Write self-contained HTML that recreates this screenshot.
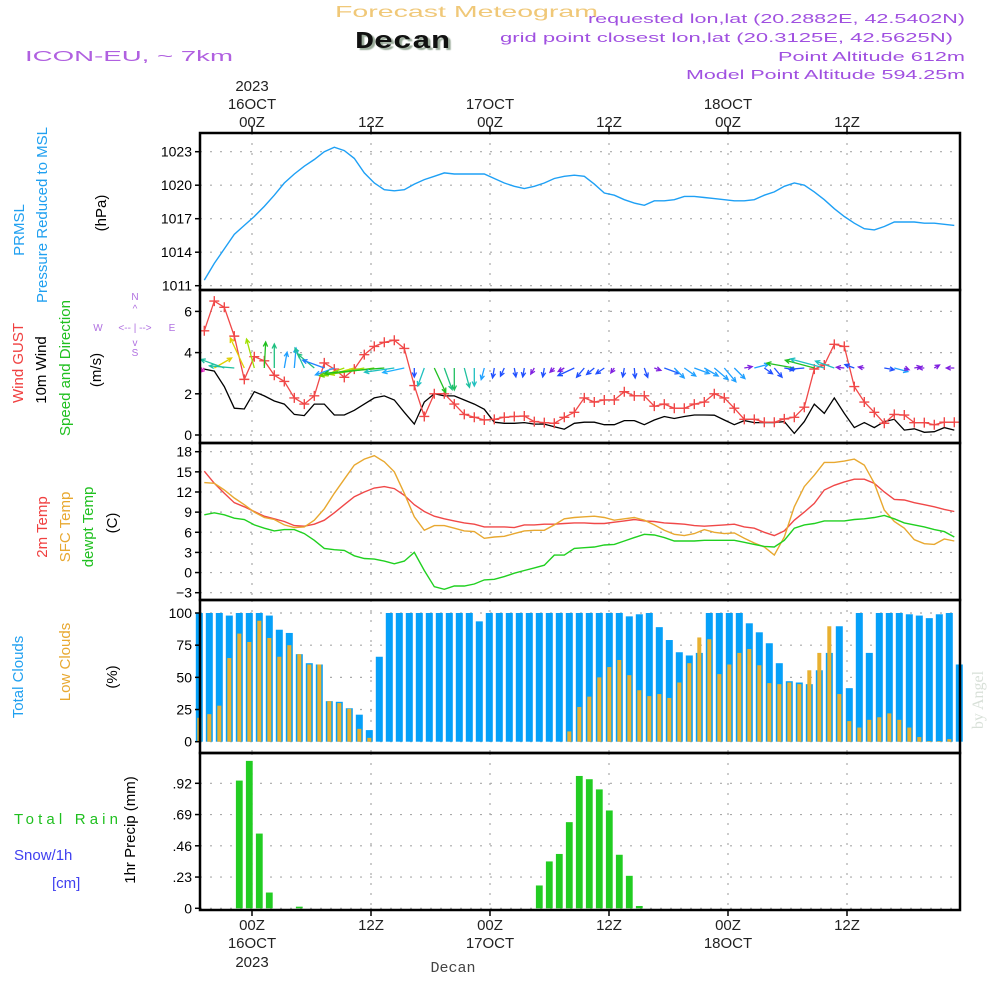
<!DOCTYPE html>
<html><head><meta charset="utf-8">
<style>
html,body{margin:0;padding:0;background:#fff;}
svg{display:block;font-family:"Liberation Sans",sans-serif;}
</style></head>
<body>
<svg id="chart" width="1000" height="1000" viewBox="0 0 1000 1000">
<g>
<text x="335" y="17" fill="#f0c878" font-size="16" textLength="263" lengthAdjust="spacingAndGlyphs">Forecast Meteogram</text>
<text x="355" y="48" fill="#111" font-size="24" font-weight="bold" font-family="Liberation Mono, monospace" textLength="95" lengthAdjust="spacingAndGlyphs" style="text-shadow:2px 2px 1px #9a9">Decan</text>
<text x="25" y="61" fill="#b060e0" font-size="15" textLength="208" lengthAdjust="spacingAndGlyphs">ICON-EU, ~ 7km</text>
<text x="588" y="23" fill="#a050e0" font-size="13" textLength="377" lengthAdjust="spacingAndGlyphs">requested lon,lat (20.2882E, 42.5402N)</text>
<text x="500" y="42" fill="#a050e0" font-size="13" textLength="453" lengthAdjust="spacingAndGlyphs">grid point closest lon,lat (20.3125E, 42.5625N)</text>
<text x="778" y="61" fill="#a050e0" font-size="13" textLength="187" lengthAdjust="spacingAndGlyphs">Point Altitude 612m</text>
<text x="686" y="79" fill="#a050e0" font-size="13" textLength="279" lengthAdjust="spacingAndGlyphs">Model Point Altitude 594.25m</text>
</g>
<g id="grid"></g>
<g id="marks"></g>
<g id="frames"></g>
<g id="labels"></g>
<g font-size="15">
<text transform="translate(24,230) rotate(-90)" fill="#20a0f0" text-anchor="middle">PRMSL</text>
<text transform="translate(47,215) rotate(-90)" fill="#20a0f0" text-anchor="middle">Pressure Reduced to MSL</text>
<text transform="translate(106,213) rotate(-90)" fill="#000" text-anchor="middle">(hPa)</text>
<text transform="translate(23,363) rotate(-90)" fill="#f04040" text-anchor="middle">Wind GUST</text>
<text transform="translate(46,370) rotate(-90)" fill="#000" text-anchor="middle">10m Wind</text>
<text transform="translate(70,368) rotate(-90)" fill="#20c020" text-anchor="middle">Speed and Direction</text>
<text transform="translate(101,370) rotate(-90)" fill="#000" text-anchor="middle">(m/s)</text>
<text transform="translate(47,527) rotate(-90)" fill="#f04040" text-anchor="middle">2m Temp</text>
<text transform="translate(70,527) rotate(-90)" fill="#e8a830" text-anchor="middle">SFC Temp</text>
<text transform="translate(93,527) rotate(-90)" fill="#20c020" text-anchor="middle">dewpt Temp</text>
<text transform="translate(117,523) rotate(-90)" fill="#000" text-anchor="middle">(C)</text>
<text transform="translate(23,677) rotate(-90)" fill="#20a0f0" text-anchor="middle">Total Clouds</text>
<text transform="translate(70,662) rotate(-90)" fill="#e8a830" text-anchor="middle">Low Clouds</text>
<text transform="translate(117,677) rotate(-90)" fill="#000" text-anchor="middle">(%)</text>
<text transform="translate(135,830) rotate(-90)" fill="#000" text-anchor="middle">1hr Precip (mm)</text>
<text x="14" y="824" fill="#20c020" textLength="104" lengthAdjust="spacing">Total  Rain</text>
<text x="14" y="860" fill="#4040f0">Snow/1h</text>
<text x="52" y="888" fill="#4040f0">[cm]</text>
</g>
<g fill="#b070e0" font-size="10" text-anchor="middle">
<text x="135" y="300">N</text>
<text x="135" y="312">^</text>
<text x="135" y="331">&lt;-- | --&gt;</text>
<text x="98" y="331">W</text>
<text x="172" y="331">E</text>
<text x="135" y="346">v</text>
<text x="135" y="356">S</text>
</g>
<text transform="translate(983,700) rotate(-90)" fill="#d8e0d8" font-size="16" font-family="Liberation Serif, serif" text-anchor="middle">by Angel</text>
<text x="453" y="972" fill="#444" font-size="15" font-family="Liberation Mono, monospace" text-anchor="middle">Decan</text>
</svg>
<script>
// ---- data ----
const timeLabels = ["00Z","12Z","00Z","12Z","00Z","12Z"];
const dateLabels = ["16OCT","","17OCT","","18OCT",""];
const pressure = [1011.5,1013.0,1014.3,1015.6,1016.4,1017.2,1018.1,1019.1,1020.2,1021.0,1021.7,1022.3,1023.0,1023.4,1023.1,1022.4,1021.1,1020.2,1019.6,1019.5,1019.6,1020.1,1020.5,1020.8,1021.1,1021.0,1021.0,1021.0,1021.0,1020.6,1020.2,1019.9,1019.7,1019.9,1020.2,1020.6,1020.8,1020.9,1020.8,1020.1,1019.3,1019.1,1018.7,1018.4,1018.2,1018.6,1018.6,1018.7,1019.0,1019.0,1018.9,1018.8,1018.7,1018.6,1018.6,1018.7,1019.1,1019.4,1019.9,1020.2,1020.0,1019.4,1018.7,1017.9,1017.2,1016.6,1016.1,1016.0,1016.3,1016.7,1016.7,1016.7,1016.6,1016.6,1016.5,1016.4];
const pressureTicks = [1011,1014,1017,1020,1023];
const windGust = [5.06,6.5,6.2,4.8,2.7,3.8,3.6,2.9,2.6,1.8,1.5,1.9,3.5,3.2,2.8,3.2,3.9,4.3,4.5,4.6,4.2,2.4,0.9,2.0,2.0,1.5,1.0,0.86,0.73,0.76,0.86,0.9,0.92,0.65,0.6,0.57,0.86,1.1,1.8,1.6,1.7,1.7,2.1,1.9,1.9,1.4,1.5,1.3,1.3,1.5,1.6,2.0,1.8,1.3,0.76,0.76,0.62,0.62,0.78,0.86,1.35,3.2,3.4,4.4,4.3,2.35,1.6,1.1,0.57,1.0,0.97,0.6,0.6,0.5,0.62,0.62];
const wind10m = [3.2,3.1,2.35,1.3,1.26,2.1,1.9,1.65,1.5,1.0,0.94,1.5,1.5,0.97,0.97,1.2,1.5,1.8,1.9,1.7,1.1,0.53,1.6,2.0,1.9,1.9,1.7,1.5,1.25,0.62,0.57,0.57,0.6,0.53,0.53,0.4,0.28,0.57,0.62,0.62,0.5,0.5,0.7,0.7,0.5,0.73,0.9,0.8,0.9,0.97,0.97,0.96,0.73,0.5,0.7,0.6,0.6,0.6,0.65,0.08,0.65,1.5,1.05,1.8,1.05,0.36,0.6,0.36,0.65,0.76,0.24,0.3,0.13,0.16,0.36,0.24];
const windTicks = [0,2,4,6];
const windDir = [225,60,290,275,335,345,3,0,10,5,335,310,290,250,250,255,260,262,265,262,258,180,200,155,160,180,165,180,195,190,205,170,190,210,190,225,240,245,220,230,235,215,190,175,160,110,110,135,125,110,120,130,140,135,80,75,125,140,100,280,265,285,285,290,275,290,280,0,100,105,110,80,270,60,0,270];
const windLen = [6,20,25,25,33,30,26,24,16,20,22,22,23,20,22,25,45,55,60,30,22,9,19,27,23,22,20,18,12,10,9,9,9,7,9,6,7,18,12,10,10,6,9,10,10,7,16,14,14,16,16,18,18,15,8,15,10,12,10,28,15,30,35,20,8,10,6,0,10,14,5,7,6,6,0,8];
const windCol = ["#e020c0","#e0d000","#20c0a0","#20c0a0","#e0d000","#a0e000","#20c020","#20c080","#20a0ff","#20a0ff","#20c0a0","#20c080","#2080ff","#20a0ff","#a0e000","#c0e000","#a0e000","#60d000","#20c020","#20c0c0","#20b0ff","#2050ff","#20c0c0","#20c020","#20c080","#20c060","#20c0a0","#20c0c0","#20a0ff","#2050ff","#2050ff","#2050ff","#2050ff","#8020e0","#2050ff","#8020e0","#8020e0","#2050ff","#2050ff","#2050ff","#2050ff","#8020e0","#2050ff","#2050ff","#2050ff","#8020e0","#2060ff","#20a0ff","#20a0ff","#20a0ff","#20a0ff","#20a0ff","#20a0ff","#20a0ff","#8020e0","#20a0ff","#2050ff","#2050ff","#2050ff","#20c020","#2050ff","#20c020","#20c0c0","#20c0c0","#8020e0","#2050ff","#8020e0","#2050ff","#2050ff","#20a0ff","#8020e0","#8020e0","#8020e0","#8020e0","#8020e0","#8020e0"];
const temp2m = [15.1,13.3,11.8,10.4,9.8,9.1,8.4,8.0,7.6,7.0,6.9,7.2,7.8,8.9,10.1,11.3,12.0,12.6,12.8,12.5,11.5,10.1,9.1,8.4,8.0,7.7,7.4,7.2,6.8,6.8,6.8,6.7,7.1,7.1,7.2,7.2,7.3,7.4,7.4,7.3,7.3,7.5,7.7,7.9,7.7,7.6,7.4,7.3,7.2,7.0,6.9,7.0,7.1,7.2,6.8,6.6,6.0,5.5,6.2,7.8,9.0,10.3,12.3,13.0,13.5,13.9,13.9,13.3,12.0,10.9,10.8,10.4,10.1,9.8,9.4,9.1];
const tempSfc = [13.4,13.3,12.3,11.1,10.1,9.0,8.2,7.9,7.1,6.7,6.8,7.8,9.5,11.8,13.9,16.0,16.9,17.4,16.5,15.0,11.8,8.3,6.3,7.0,7.0,6.6,6.2,6.1,5.1,5.3,5.4,5.8,6.2,6.3,6.3,7.1,8.0,8.2,8.3,8.4,8.2,7.8,8.0,8.2,7.8,7.1,6.3,5.7,5.5,5.8,6.4,6.0,5.8,5.9,5.1,4.4,3.8,2.6,5.3,9.8,12.8,14.5,16.4,16.4,16.6,16.9,16.0,13.3,9.3,7.6,6.6,4.9,4.3,4.2,5.0,4.7];
const dewpt = [8.6,8.9,8.6,8.1,7.9,7.1,6.6,6.2,6.4,6.4,5.8,4.8,3.6,3.4,3.3,2.5,2.1,2.0,1.7,1.3,1.7,3.0,0.3,-2.1,-2.5,-2.0,-2.0,-1.7,-1.1,-1.0,-0.6,-0.1,0.3,0.7,1.1,2.6,2.6,3.6,3.7,3.8,4.1,4.2,4.7,5.2,5.7,5.6,5.2,4.7,4.7,4.7,4.8,4.8,4.8,4.8,4.5,4.2,3.9,3.8,4.8,6.6,7.1,7.3,7.7,7.7,7.7,7.9,8.0,8.2,8.5,8.0,7.4,7.1,6.8,6.4,6.1,5.3];
const tempTicks = [-3,0,3,6,9,12,15,18];
const totalClouds = [100,100,100,98,100,100,100,98,87,84.5,68,61,60,31.5,31,26,21,9,66,100,100,100,100,100,100,100,100,100,93.5,100,100,100,100,100,100,100,100,100,100,100,100,100,100,97.4,99,100,89,79,69.5,67,69,100,100,100,100,92,85,76.5,61,47,46,44.7,55.5,69,89.7,41.6,100,69,100,100,100,99,98,96,99,100,60];
const lowClouds = [18.6,21.4,28,65,84,77.5,94,80.6,66,75,68,60,60,31.5,30,25.6,10,3,0,0,0,0,0,0,0,0,0,0,0,0,0,0,0,0,0,0,0,8,27,35,50,58,63.5,51.7,40,35.4,37,34,46,61,81,79.6,52.5,60,69,72,59.4,45.5,44.7,46,44.7,55.5,69,89.7,37,16,11,17,19,22,17,11,3.6,0.5,0.5,2,0];
const cloudTicks = [0,25,50,75,100];
const precip = [0,0,0,0,0.94,1.085,0.55,0.116,0,0,0.012,0,0,0,0,0,0,0,0,0,0,0,0,0,0,0,0,0,0,0,0,0,0,0,0.168,0.345,0.40,0.634,0.974,0.95,0.875,0.72,0.394,0.239,0.017,0,0,0,0,0,0,0,0,0,0,0,0,0,0,0,0,0,0,0,0,0,0,0,0,0,0,0,0,0,0,0,0];
const precipTicks = [0,0.23,0.46,0.69,0.92];

// ---- layout ----
const X0=200, X1=960;
const NS="http://www.w3.org/2000/svg";
const P={p:[133,290],w:[290,443],t:[443,600],c:[600,753],r:[753,910]};
const lineX = k => 204.3 + 10*k;
const barX = i => 199.3 + 10*i;
const timeX = j => 252 + 119*j;
const yP = v => 285.7 - (v-1011)*(285.7-151.7)/12;
const yW = v => 435 - v*20.6;
const yT = v => 592.7 - (v+3)*(592.7-451.7)/21;
const yC = v => 741.7 - v*1.287;
const yR = v => 908.3 - v*(908.3-783.3)/0.92;
function el(tag,attrs,parent){const e=document.createElementNS(NS,tag);for(const k in attrs)e.setAttribute(k,attrs[k]);parent.appendChild(e);return e;}
const G=document.getElementById('grid'),M=document.getElementById('marks'),F=document.getElementById('frames'),L=document.getElementById('labels');

// gridlines + tick labels
function hgrid(ticks,yf,fmt,name){
  ticks.forEach(t=>{
    const y=yf(t);
    const g=el('line',{x1:X0,x2:X1,y1:y,y2:y,stroke:'#aaa','stroke-width':1.2,'stroke-dasharray':'2,8'},G);
    
    
    const tk=el('line',{x1:X0-5,x2:X0,y1:y,y2:y,stroke:'#000','stroke-width':1.5},F);
    
    
    const tx=el('text',{x:X0-8,y:y+5,'text-anchor':'end','font-size':14,fill:'#000'},L);
    tx.textContent=fmt(t);
    
    
  });
}
hgrid(pressureTicks,yP,v=>v,'pressure');
hgrid(windTicks,yW,v=>v,'wind');
hgrid(tempTicks,yT,v=>v<0?'\u2212'+(-v):v,'temp');
hgrid(cloudTicks,yC,v=>v,'cloud');
hgrid(precipTicks,yR,v=>v===0?'0':v.toFixed(2).replace(/^0/,''),'precip');
Object.keys(P).forEach(k=>{
  timeLabels.forEach((t,j)=>{
    const x=timeX(j);
    const g=el('line',{x1:x,x2:x,y1:P[k][0],y2:P[k][1],stroke:'#aaa','stroke-width':1.2,'stroke-dasharray':'2,8'},G);
    
    
  });
  const r=el('rect',{x:X0,y:P[k][0],width:X1-X0,height:P[k][1]-P[k][0],fill:'none',stroke:'#000','stroke-width':2.5},F);
  
  
});
timeLabels.forEach((t,j)=>{
  const x=timeX(j);
  const a=el('line',{x1:x,x2:x,y1:126,y2:133,stroke:'#000','stroke-width':1.5},F);
  
  
  const b=el('line',{x1:x,x2:x,y1:910,y2:916,stroke:'#000','stroke-width':1.5},F);
  
  
  const tt=el('text',{x:x,y:127,'text-anchor':'middle','font-size':15,fill:'#222'},L);
  tt.textContent=t;
  
  
  const bt=el('text',{x:x,y:930,'text-anchor':'middle','font-size':15,fill:'#222'},L);
  bt.textContent=t;
  
  
  if(dateLabels[j]){
    const td=el('text',{x:x,y:109,'text-anchor':'middle','font-size':15,fill:'#222'},L);
    td.textContent=dateLabels[j];
    
    
    const bd=el('text',{x:x,y:948,'text-anchor':'middle','font-size':15,fill:'#222'},L);
    bd.textContent=dateLabels[j];
    
    
  }
});
const y1=el('text',{x:timeX(0),y:91,'text-anchor':'middle','font-size':15,fill:'#222'},L);y1.textContent='2023';


const y2=el('text',{x:timeX(0),y:967,'text-anchor':'middle','font-size':15,fill:'#222'},L);y2.textContent='2023';



function polyline(vals,yf,color,name,w){
  const pts=vals.map((v,k)=>lineX(k).toFixed(1)+','+yf(v).toFixed(1)).join(' ');
  const p=el('polyline',{points:pts,fill:'none',stroke:color,'stroke-width':w||1.4},M);
  
  
}
polyline(pressure,yP,'#1ea0f5','pressure-line');
// clouds
totalClouds.forEach((v,i)=>{
  const b=el('rect',{x:barX(i)-3.5,y:yC(v),width:7,height:yC(0)-yC(v),fill:'#06a0f8'},M);
  
  
});
lowClouds.forEach((v,i)=>{
  const b=el('rect',{x:barX(i)-2,y:yC(v),width:4,height:yC(0)-yC(v),fill:'#e8b030'},M);
  
  
});
precip.forEach((v,i)=>{
  if(v<=0)return;
  const b=el('rect',{x:barX(i)-3.4,y:yR(v),width:6.8,height:yR(0)-yR(v),fill:'#22cc22'},M);
  
  
});
// wind
polyline(wind10m,yW,'#000','wind-10m-line',1.3);
polyline(windGust,yW,'#f04848','wind-gust-line',1.3);
windGust.forEach((v,k)=>{
  const x=lineX(k),y=yW(v);
  const m=el('path',{d:`M${x-5},${y}H${x+5}M${x},${y-5}V${y+5}`,stroke:'#f04848','stroke-width':1.4},M);
  
  
});
windDir.forEach((d,k)=>{
  const len=windLen[k]; if(!len)return;
  const x=lineX(k),y=368,a=d*Math.PI/180;
  const hx=x+len*Math.sin(a),hy=y-len*Math.cos(a);
  const h=5,b1=a+Math.PI-0.45,b2=a+Math.PI+0.45;
  const dstr=`M${x},${y}L${hx},${hy}M${hx+h*Math.sin(b1)},${hy-h*Math.cos(b1)}L${hx},${hy}L${hx+h*Math.sin(b2)},${hy-h*Math.cos(b2)}`;
  const ar=el('path',{d:dstr,stroke:windCol[k],fill:'none','stroke-width':1.3},M);
  
  
});
// temperature
polyline(temp2m,yT,'#f04848','temp-2m-line');
polyline(tempSfc,yT,'#e8a830','temp-sfc-line');
polyline(dewpt,yT,'#20d020','dewpt-line');
</script>
</body></html>
